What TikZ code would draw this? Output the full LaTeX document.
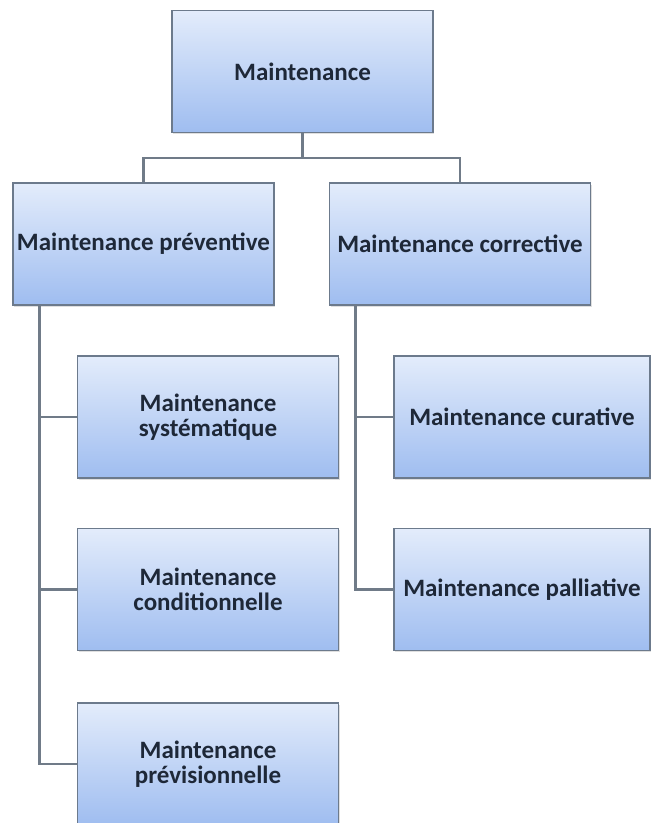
\documentclass[tikz,border=0pt]{standalone}
\usepackage{fontspec}
\setmainfont{Carlito}
\usetikzlibrary{shadows}
\definecolor{boxtop}{HTML}{E3ECFB}
\definecolor{boxbot}{HTML}{9FBDF0}
\definecolor{boxedge}{HTML}{6C7A8C}
\definecolor{linkcol}{HTML}{707B88}
\definecolor{txtcol}{HTML}{1E2838}
\begin{document}
\begin{tikzpicture}[x=1pt,y=-1pt,
  box/.style={draw=boxedge, line width=1.4pt, top color=boxtop, bottom color=boxbot,
    minimum width=261pt, minimum height=122pt, inner sep=2pt, align=center,
    text=txtcol, font=\fontsize{25}{25.5}\selectfont\bfseries,
    drop shadow={opacity=0.25, shadow xshift=1pt, shadow yshift=-1.5pt}},
  link/.style={draw=linkcol, line width=2.6pt}]
\useasboundingbox[fill=white] (0,0) rectangle (653,823);
\node[box] (top) at (302.5,71.5) {Maintenance};
\node[box] (prev) at (143.5,244) {Maintenance préventive};
\node[box] (corr) at (460,244) {Maintenance corrective};
\node[box] (sys) at (208,417) {Maintenance\\systématique};
\node[box] (cond) at (208,589.5) {Maintenance\\conditionnelle};
\node[box] (previs) at (208,764) {Maintenance\\prévisionnelle};
\node[box, minimum width=256pt] (cur) at (522,417) {Maintenance curative};
\node[box, minimum width=256pt] (pal) at (522,589.5) {Maintenance palliative};
\coordinate (bar) at (302.5,158);
\coordinate (lrail) at (39.5,305);
\coordinate (rrail) at (355.5,305);
\draw[link] (top.south) -- (bar);
\draw[link] (prev.north) |- (bar) -| (corr.north);
\draw[link] (lrail) |- (sys.west);
\draw[link] (lrail) |- (cond.west);
\draw[link] (lrail) |- (previs.west);
\draw[link] (rrail) |- (cur.west);
\draw[link] (rrail) |- (pal.west);
\end{tikzpicture}
\end{document}
